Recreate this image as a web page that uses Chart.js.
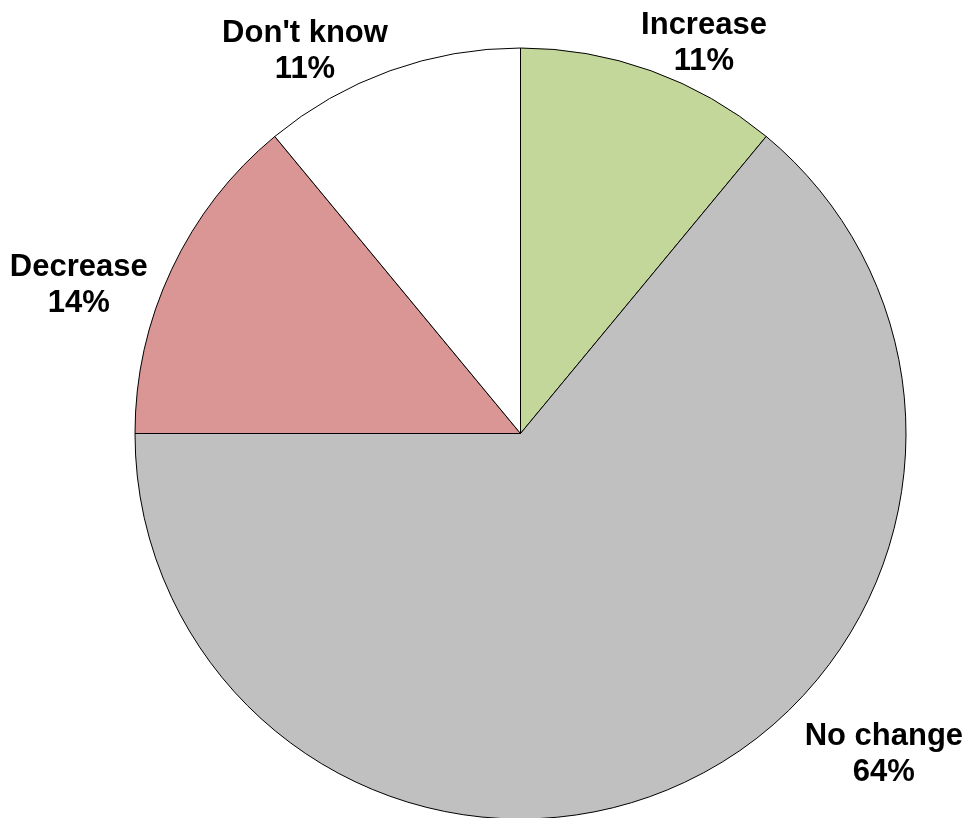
<!DOCTYPE html>
<html>
<head>
<meta charset="utf-8">
<title>Pie</title>
<script src="https://cdn.jsdelivr.net/npm/chart.js@4/dist/chart.umd.min.js"></script>
<style>
    html, body { margin: 0; padding: 0; background: #fff; overflow: hidden; }
    #wrap { width: 969px; height: 880px; }
</style>
</head>
<body>
<div id="wrap"><canvas id="pieChart" width="969" height="880"></canvas></div>
<script>
// slices, clockwise from 12 o'clock
const categories = ['Increase', 'No change', 'Decrease', "Don't know"];
const shares = [11, 64, 14, 11];
const sliceColors = ['#c4d79b', '#c0c0c0', '#d99694', '#ffffff'];

// labels sit outside the pie; small nudges from the computed spot (px)
const labelNudge = [[-10, -1], [120, -60], [-24, 43], [-2, 7]];

const outsideLabels = {
    id: 'outsideLabels',
    afterDatasetsDraw(chart) {
        const ctx = chart.ctx;
        const meta = chart.getDatasetMeta(0);
        const fontSize = 31;
        const cap = fontSize * 0.72;
        const lineGap = 36;
        ctx.save();
        ctx.font = 'bold ' + fontSize + 'px "Liberation Sans", Arial, sans-serif';
        ctx.fillStyle = '#000';
        ctx.textAlign = 'center';
        ctx.textBaseline = 'alphabetic';
        meta.data.forEach(function(arc, i) {
            const p = arc.getProps(['x', 'y', 'startAngle', 'endAngle', 'outerRadius'], true);
            const mid = (p.startAngle + p.endAngle) / 2;
            const px = p.x + Math.cos(mid) * p.outerRadius;
            const py = p.y + Math.sin(mid) * p.outerRadius;
            const lines = [chart.data.labels[i], chart.data.datasets[0].data[i] + '%'];
            const w = Math.max.apply(null, lines.map(function(t) { return ctx.measureText(t).width; }));
            const h = cap + lineGap;
            const cx = px + (Math.cos(mid) >= 0 ? w / 2 : -w / 2) + labelNudge[i][0];
            const cy = py + (Math.sin(mid) >= 0 ? h / 2 : -h / 2) + labelNudge[i][1];
            const base = cy - h / 2 + cap;
            ctx.fillText(lines[0], cx, base);
            ctx.fillText(lines[1], cx, base + lineGap);
        });
        ctx.restore();
    }
};

document.addEventListener('DOMContentLoaded', function() {
    const ctx = document.getElementById('pieChart').getContext('2d');
    new Chart(ctx, {
        type: 'pie',
        data: {
            labels: categories,
            datasets: [{
                data: shares,
                backgroundColor: sliceColors,
                borderColor: '#000000',
                borderWidth: 1
            }]
        },
        options: {
            responsive: false,
            animation: false,
            layout: {
                padding: { top: 47.5, left: 134.5, right: 62.5, bottom: 60.5 }
            },
            plugins: {
                legend: { display: false },
                tooltip: { enabled: false }
            }
        },
        plugins: [outsideLabels]
    });
});
</script>
</body>
</html>
